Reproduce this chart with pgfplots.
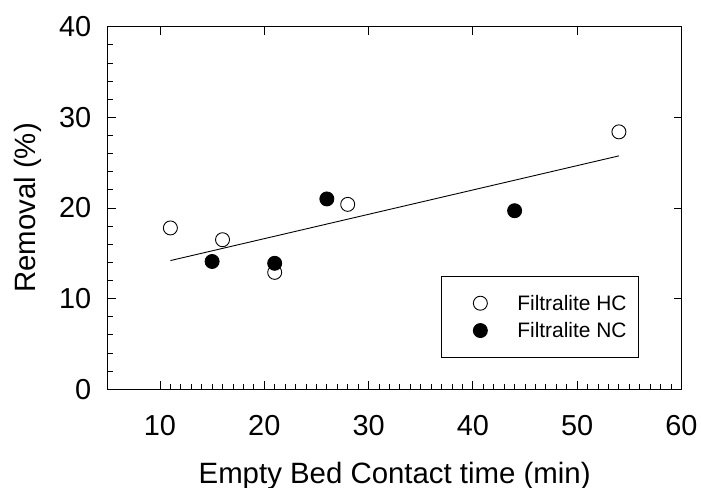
\documentclass[border=0pt]{standalone}
\usepackage{pgfplots}
\pgfplotsset{compat=1.18}
\usepackage{fontspec}
\setmainfont{Liberation Sans}
\newcommand{\legfont}{\fontsize{21}{25}\selectfont}
\begin{document}
\begin{tikzpicture}
\path[use as bounding box] (-107.8bp,-98.7bp) rectangle (593.2bp,389.3bp);
\pgfplotsset{
  common/.style={
    scale only axis, width=573.7bp, height=362.6bp,
    xmin=5, xmax=60, ymin=0, ymax=40,
    xtick={10,20,30,40,50,60}, ytick={0,10,20,30,40},
    tick align=inside,
    major tick length=8bp, minor tick length=5.5bp,
    axis line style={line width=1bp},
    every tick/.style={black, line width=0.9bp},
    /pgf/number format/assume math mode=true,
    tick label style={font=\fontsize{29}{34}\selectfont},
  },
}
\begin{axis}[common,
  xtick pos=left, ytick pos=left,
  minor x tick num=9, minor y tick num=4,
  yticklabel style={xshift=-13bp},
  xticklabel style={yshift=-23bp},
  xlabel={Empty Bed Contact time (min)},
  ylabel={Removal (\%)},
  label style={font=\fontsize{29.5}{34}\selectfont},
  xlabel style={at={(axis description cs:0.5,-0.2592)}, anchor=base},
  ylabel style={at={(axis description cs:-0.1266,0.5)}, rotate=0, anchor=base},
  legend style={at={(0.5807,0.3133)}, anchor=north west, draw=black, line width=0.8bp,
    inner xsep=10bp, inner ysep=16.8bp,
    row sep=6.7bp, column sep=6bp},
  legend cell align=left,
  legend image code/.code={\path[#1, draw=none, mark repeat=2, mark phase=2] plot coordinates {(0bp,0bp) (29bp,0bp) (58bp,0bp)};},
]
\addplot[black, line width=0.9bp, forget plot] coordinates {(11,14.2) (54,25.75)};
\addplot[draw=none, mark=*, mark size=7bp, mark options={draw=black, fill=white, line width=0.9bp}]
  coordinates {(11,17.8) (16,16.5) (21,12.9) (28,20.4) (54,28.4)};
\addlegendentry{\legfont Filtralite HC}
\addplot[draw=none, mark=*, mark size=7bp, mark options={draw=black, fill=black, line width=0.9bp}]
  coordinates {(15,14.1) (21,13.9) (26,21.0) (44,19.7)};
\addlegendentry{\legfont Filtralite NC}
\end{axis}
\begin{axis}[common,
  xtick pos=right, ytick pos=right,
  xticklabels={}, yticklabels={},
]
\end{axis}
\end{tikzpicture}
\end{document}
